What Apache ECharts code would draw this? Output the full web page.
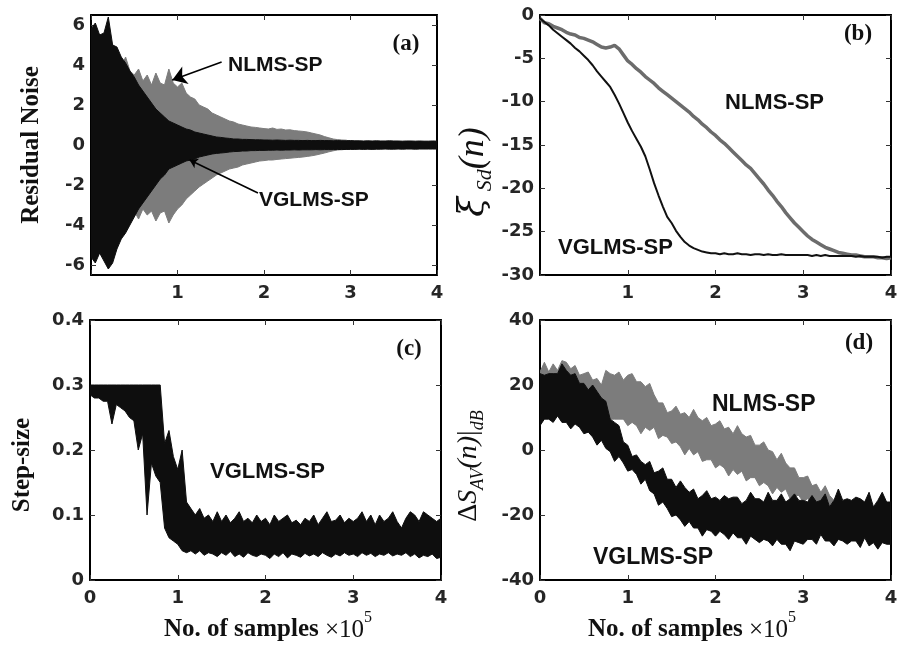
<!DOCTYPE html>
<html>
<head>
<meta charset="utf-8">
<script src="https://cdn.jsdelivr.net/npm/echarts@6/dist/echarts.min.js"></script>
<style>
html, body { margin: 0; padding: 0; background: #fff; }
#main { width: 901px; height: 653px; }
</style>
</head>
<body>
<div id="main"></div>
<script>
// sample positions (x 10^5)
var samples = [0,0.05,0.1,0.15,0.2,0.25,0.3,0.35,0.4,0.45,
    0.5,0.55,0.6,0.65,0.7,0.75,0.8,0.85,0.9,0.95,
    1,1.05,1.1,1.15,1.2,1.25,1.3,1.35,1.4,1.45,
    1.5,1.55,1.6,1.65,1.7,1.75,1.8,1.85,1.9,1.95,
    2,2.05,2.1,2.15,2.2,2.25,2.3,2.35,2.4,2.45,
    2.5,2.55,2.6,2.65,2.7,2.75,2.8,2.85,2.9,2.95,
    3,3.05,3.1,3.15,3.2,3.25,3.3,3.35,3.4,3.45,
    3.5,3.55,3.6,3.65,3.7,3.75,3.8,3.85,3.9,3.95,
    4];

// (a) residual noise envelopes
var aNlmsHi = [4.0,4.0,4.0,4.0,4.0,4.0,4.0,3.9,4.4,3.7,
    3.5,3.8,3.2,3.5,3.0,3.6,3.1,3.0,3.8,3.1,
    2.9,3.1,2.6,2.4,2.3,2.0,1.9,1.8,1.6,1.5,
    1.4,1.3,1.2,1.15,1.05,1.0,0.95,0.9,0.88,0.85,
    0.82,0.8,0.85,0.78,0.8,0.75,0.76,0.72,0.7,0.68,
    0.65,0.6,0.55,0.5,0.42,0.36,0.3,0.27,0.25,0.24,
    0.18,0.18,0.18,0.18,0.18,0.18,0.18,0.18,0.18,0.18,
    0.18,0.18,0.18,0.18,0.18,0.18,0.18,0.18,0.18,0.18,
    0.18];
var aNlmsLo = [-4.0,-4.0,-4.0,-4.0,-4.0,-4.0,-4.0,-3.8,-3.6,-3.4,
    -3.3,-3.7,-3.2,-3.5,-3.3,-3.8,-3.4,-3.3,-3.9,-3.5,
    -3.2,-3.0,-2.7,-2.5,-2.3,-2.1,-1.95,-1.8,-1.65,-1.5,
    -1.4,-1.3,-1.2,-1.15,-1.1,-1.0,-0.95,-0.9,-0.85,-0.8,
    -0.78,-0.75,-0.75,-0.72,-0.7,-0.68,-0.66,-0.64,-0.62,-0.6,
    -0.57,-0.54,-0.5,-0.45,-0.4,-0.34,-0.29,-0.25,-0.23,-0.22,
    -0.18,-0.18,-0.18,-0.18,-0.18,-0.18,-0.18,-0.18,-0.18,-0.18,
    -0.18,-0.18,-0.18,-0.18,-0.18,-0.18,-0.18,-0.18,-0.18,-0.18,
    -0.18];
var aVglmsHi = [5.8,6.1,5.5,5.6,6.4,5.0,4.9,4.4,4.1,3.7,
    3.4,3.0,2.7,2.4,2.1,1.8,1.6,1.4,1.2,1.1,
    1.0,0.9,0.8,0.75,0.65,0.6,0.55,0.5,0.45,0.4,
    0.38,0.35,0.33,0.3,0.3,0.28,0.28,0.27,0.26,0.26,
    0.25,0.25,0.24,0.25,0.24,0.23,0.24,0.23,0.23,0.22,
    0.23,0.22,0.22,0.23,0.22,0.22,0.21,0.22,0.21,0.21,
    0.22,0.21,0.21,0.2,0.21,0.2,0.21,0.2,0.2,0.21,
    0.2,0.2,0.19,0.2,0.2,0.19,0.2,0.19,0.19,0.2,
    0.19];
var aVglmsLo = [-5.6,-5.9,-5.4,-5.8,-6.2,-5.9,-5.2,-4.7,-4.4,-4.0,
    -3.6,-3.2,-2.9,-2.6,-2.3,-2.0,-1.7,-1.5,-1.2,-1.1,
    -1.0,-0.9,-0.8,-0.75,-0.7,-0.6,-0.55,-0.5,-0.45,-0.42,
    -0.4,-0.38,-0.35,-0.33,-0.32,-0.3,-0.3,-0.28,-0.28,-0.27,
    -0.27,-0.26,-0.26,-0.25,-0.26,-0.25,-0.25,-0.24,-0.25,-0.24,
    -0.24,-0.24,-0.23,-0.24,-0.23,-0.23,-0.23,-0.22,-0.23,-0.22,
    -0.22,-0.22,-0.21,-0.22,-0.21,-0.22,-0.21,-0.21,-0.2,-0.21,
    -0.21,-0.2,-0.21,-0.2,-0.2,-0.21,-0.2,-0.2,-0.2,-0.2,
    -0.2];

// (b) misalignment curves
var bNlms = [-0.4,-0.9,-1.0,-1.3,-1.5,-1.7,-2.0,-2.2,-2.3,-2.6,
    -2.7,-2.9,-3.1,-3.4,-3.7,-3.8,-3.7,-3.5,-3.9,-4.6,
    -5.3,-5.7,-6.2,-6.6,-7.1,-7.5,-7.9,-8.4,-8.8,-9.2,
    -9.6,-10.0,-10.4,-10.8,-11.2,-11.7,-12.1,-12.6,-13.0,-13.5,
    -13.9,-14.4,-14.8,-15.3,-15.8,-16.3,-16.8,-17.3,-17.7,-18.3,
    -18.9,-19.5,-20.2,-20.8,-21.5,-22.1,-22.8,-23.4,-24.0,-24.5,
    -25.0,-25.5,-25.9,-26.2,-26.5,-26.8,-27.0,-27.2,-27.4,-27.5,
    -27.6,-27.7,-27.7,-27.8,-27.9,-27.9,-27.9,-28.0,-28.0,-28.1,
    -28.0];
var bVglms = [-0.4,-0.8,-1.2,-1.7,-2.1,-2.5,-2.9,-3.3,-3.8,-4.2,
    -4.7,-5.2,-5.8,-6.5,-7.1,-7.7,-8.3,-9.2,-10.2,-11.3,
    -12.4,-13.4,-14.3,-15.2,-16.3,-17.8,-19.4,-20.8,-22.1,-23.3,
    -24.0,-24.9,-25.6,-26.2,-26.6,-26.9,-27.1,-27.3,-27.4,-27.5,
    -27.5,-27.6,-27.5,-27.6,-27.6,-27.5,-27.6,-27.6,-27.7,-27.6,
    -27.6,-27.7,-27.6,-27.7,-27.7,-27.6,-27.7,-27.7,-27.7,-27.7,
    -27.7,-27.7,-27.8,-27.7,-27.8,-27.7,-27.8,-27.8,-27.8,-27.8,
    -27.8,-27.8,-27.9,-27.8,-27.9,-27.9,-27.9,-27.9,-28.0,-27.9,
    -27.9];

// (c) step-size envelope
var cVglmsHi = [0.3,0.3,0.3,0.3,0.3,0.3,0.3,0.3,0.3,0.3,
    0.3,0.3,0.3,0.3,0.3,0.3,0.3,0.21,0.23,0.19,
    0.17,0.2,0.12,0.11,0.1,0.11,0.095,0.1,0.09,0.105,
    0.09,0.1,0.088,0.095,0.105,0.09,0.095,0.088,0.1,0.09,
    0.095,0.085,0.1,0.09,0.095,0.1,0.088,0.092,0.085,0.095,
    0.09,0.1,0.085,0.095,0.105,0.09,0.092,0.1,0.088,0.095,
    0.09,0.095,0.105,0.09,0.1,0.085,0.1,0.09,0.095,0.105,
    0.09,0.08,0.095,0.105,0.1,0.09,0.105,0.1,0.095,0.09,
    0.095];
var cVglmsLo = [0.285,0.28,0.28,0.275,0.275,0.24,0.27,0.265,0.26,0.25,
    0.245,0.2,0.225,0.1,0.18,0.16,0.15,0.08,0.065,0.06,
    0.055,0.045,0.042,0.045,0.04,0.045,0.038,0.042,0.04,0.036,
    0.042,0.038,0.044,0.036,0.04,0.035,0.042,0.038,0.036,0.04,
    0.038,0.033,0.04,0.036,0.042,0.034,0.04,0.038,0.035,0.041,
    0.037,0.04,0.036,0.042,0.038,0.035,0.04,0.037,0.042,0.038,
    0.04,0.036,0.042,0.038,0.041,0.036,0.04,0.038,0.042,0.037,
    0.04,0.038,0.042,0.036,0.04,0.034,0.038,0.036,0.04,0.033,
    0.035];

// (d) deviation envelopes (dB)
var dNlmsHi = [24,27,24,26.5,24.5,27.5,27,25,26,23,
    23.5,24,21.5,22,20,24.5,23.5,23,24,21.5,
    23,23.5,21,21,19.5,20.5,17,14.5,14.5,11.5,
    12,13.5,11,11.5,10,12.5,10,9,10,7.5,
    8,9,6.5,7,5,7.5,5,4,4.5,1.5,
    1.5,2.5,0,-0.5,-3,-1,-4,-5.5,-5.5,-8.5,
    -8.5,-8,-11,-10.5,-13,-11,-14,-15.5,-15,-17.5,
    -17,-16,-18.5,-17.5,-19.5,-17,-19,-20,-18.5,-21,
    -20];
var dNlmsLo = [15,15,15,15,15,14.5,14,13.5,13,12.5,
    12,11.5,11,10.5,10,10,9.5,9.5,9.5,9.5,
    7.5,8.5,7.5,5,7,6,7,3.5,4.5,4,
    2,2.5,1,-1.5,0.5,-1.5,-0.5,-3.5,-3,-3,
    -5.5,-4.5,-5.5,-8,-6,-7.5,-6.5,-9.5,-8.5,-8.5,
    -11,-10,-11,-13.5,-11.5,-13,-12,-15,-14,-14,
    -16,-15,-16,-19,-17,-18.5,-17.5,-20.5,-19.5,-19.5,
    -21,-20,-21,-23,-20.5,-22,-20.5,-23.5,-22,-21.5,
    -22];
var dVglmsHi = [23.5,23,23.5,23.5,23.5,26.5,24.5,23,23.5,20.5,
    20.5,18.5,20,18,16,15,9.5,8.5,7.5,2.5,
    1.5,-2,-1.5,-3.5,-4.5,-3.5,-7,-6.5,-5.5,-9,
    -9,-11.5,-9.5,-11.5,-13,-12,-15,-14,-12.5,-15,
    -14.5,-15.5,-14,-15,-14.5,-14.5,-16.5,-15.5,-13,-15,
    -15,-16,-13,-15.5,-15.5,-13.5,-16,-15,-13.5,-15.5,
    -15.5,-16,-14,-16,-15.5,-13.5,-17.5,-15.5,-12,-15.5,
    -15,-15.5,-14.5,-15,-16,-13,-17.5,-15.5,-13,-16,
    -16];
var dVglmsLo = [7.5,9.5,9.5,8.5,10.5,8.5,8.5,6.5,8,7,
    5,5.5,4,1.5,3,0.5,-0.5,-3.5,-2,-4,
    -6.5,-6,-7.5,-10.5,-9,-12.5,-13.5,-17,-16,-18,
    -20.5,-20,-21.5,-23.5,-22,-24,-24,-26.5,-24.5,-25,
    -26.5,-25,-26,-27.5,-25.5,-27,-27,-29,-26.5,-27.5,
    -28.5,-27.5,-28,-29.5,-27.5,-29,-29,-31,-28,-28.5,
    -29,-27.5,-27.5,-29,-26,-28,-28,-29.5,-27.5,-28,
    -29,-28,-28,-30,-27,-29.5,-28.5,-30.5,-28.5,-29,
    -29];

// tick labels
var xLabelsTop = [1, 2, 3, 4];
var xLabelsBottom = [0, 1, 2, 3, 4];
var yTicksA = [-6, -4, -2, 0, 2, 4, 6];

var GRAY = '#7c7c7c';
var BLACK = '#0e0e0e';
var SANS = '"Liberation Sans", Arial, sans-serif';
var SERIF = '"Liberation Serif", "Times New Roman", serif';

function pairs(xs, ys) {
    return xs.map(function (x, i) { return [x, ys[i]]; });
}
function triples(xs, lo, hi) {
    return xs.map(function (x, i) { return [x, lo[i], hi[i]]; });
}

var tickLabel = {fontFamily: '"DejaVu Sans", sans-serif', fontWeight: 'bold', fontSize: 18, color: '#262626'};
var frame = {show: true, onZero: false, lineStyle: {color: '#000', width: 2}};

function xPair(g, labels) {
    return [{
        type: 'value', gridIndex: g, position: 'bottom', min: 0, max: 4, interval: 1,
        axisLine: frame,
        axisTick: {inside: true, length: 5, lineStyle: {color: '#333'}},
        axisLabel: Object.assign({customValues: labels, margin: 9}, tickLabel),
        splitLine: {show: false}
    }, {
        type: 'value', gridIndex: g, position: 'top', min: 0, max: 4, interval: 1,
        axisLine: frame,
        axisTick: {inside: true, length: 5, lineStyle: {color: '#333'}},
        axisLabel: {show: false},
        splitLine: {show: false}
    }];
}
function yPair(g, min, max, interval, ticks) {
    var left = {
        type: 'value', gridIndex: g, position: 'left', min: min, max: max,
        axisLine: frame,
        axisTick: {inside: true, length: 5, lineStyle: {color: '#333'}},
        axisLabel: Object.assign({margin: 6}, tickLabel),
        splitLine: {show: false}
    };
    var right = {
        type: 'value', gridIndex: g, position: 'right', min: min, max: max,
        axisLine: frame,
        axisTick: {inside: true, length: 5, lineStyle: {color: '#333'}},
        axisLabel: {show: false},
        splitLine: {show: false}
    };
    if (ticks) {
        left.axisTick.customValues = ticks;
        left.axisLabel.customValues = ticks;
        right.axisTick.customValues = ticks;
    } else {
        left.interval = interval;
        right.interval = interval;
    }
    return [left, right];
}

// a filled band between lo and hi, drawn as one polygon through the axis scales
function band(g, hi, lo, color) {
    return {
        type: 'custom', xAxisIndex: 2 * g, yAxisIndex: 2 * g,
        silent: true, clip: true,
        data: triples(samples, lo, hi),
        encode: {x: 0, y: [1, 2]},
        renderItem: function (params, api) {
            if (params.dataIndexInside !== 0) return null;
            var n = params.dataInsideLength;
            var top = [], bottom = [];
            for (var i = 0; i < n; i++) {
                top.push(api.coord([api.value(0, i), api.value(2, i)]));
                bottom.unshift(api.coord([api.value(0, i), api.value(1, i)]));
            }
            return {
                type: 'polygon',
                shape: {points: top.concat(bottom)},
                style: {fill: color, stroke: color, lineWidth: 1}
            };
        }
    };
}

var arrows = {
    silent: true,
    symbol: ['none', 'arrow'],
    symbolSize: 14,
    label: {show: false},
    lineStyle: {color: '#000', width: 1.6, type: 'solid'},
    data: [
        [{coord: [1.51, 4.15]}, {coord: [0.94, 3.25]}],
        [{coord: [1.93, -2.4]}, {coord: [1.14, -0.75], symbolSize: 8}]
    ]
};

function txt(x, y, text, size) {
    return {type: 'text', x: x, y: y, z: 100,
        style: {text: text, font: 'bold ' + size + 'px ' + SANS, fill: '#111', align: 'left', verticalAlign: 'middle'}};
}
function tag(x, y, text) {
    return {type: 'text', x: x, y: y, z: 100,
        style: {text: text, font: 'bold 23px ' + SERIF, fill: '#111', align: 'center', verticalAlign: 'middle'}};
}
function samplesName(x) {
    return {type: 'text', x: x, y: 630, z: 100,
        style: {
            text: '{b|No. of samples }{m|×10}{s|5}', align: 'center', verticalAlign: 'middle',
            rich: {
                b: {font: 'bold 25px ' + SERIF, fill: '#111', lineHeight: 40},
                m: {font: '25px ' + SERIF, fill: '#111', lineHeight: 40},
                s: {font: '16px ' + SERIF, fill: '#111', lineHeight: 16, verticalAlign: 'top'}
            }
        }};
}
function yName(x, y, text, rich) {
    var el = {type: 'text', x: x, y: y, z: 100, rotation: Math.PI / 2,
        style: {text: text, align: 'center', verticalAlign: 'middle', fill: '#111', font: 'bold 25px ' + SERIF}};
    if (rich) el.style.rich = rich;
    return el;
}

var option = {
    animation: false,
    backgroundColor: '#fff',
    grid: [
        {left: 91, top: 15, width: 346, height: 260},
        {left: 540, top: 15, width: 351, height: 260},
        {left: 90, top: 320, width: 351, height: 260},
        {left: 540, top: 320, width: 351, height: 260}
    ],
    xAxis: [].concat(xPair(0, xLabelsTop), xPair(1, xLabelsTop), xPair(2, xLabelsBottom), xPair(3, xLabelsBottom)),
    yAxis: [].concat(yPair(0, -6.5, 6.5, null, yTicksA), yPair(1, -30, 0, 5), yPair(2, 0, 0.4, 0.1), yPair(3, -40, 40, 20)),
    series: [
        band(0, aNlmsHi, aNlmsLo, GRAY),
        band(0, aVglmsHi, aVglmsLo, BLACK),
        {
            type: 'line', xAxisIndex: 0, yAxisIndex: 0, symbol: 'none', silent: true,
            data: [], markLine: arrows
        },
        {
            name: 'NLMS-SP', type: 'line', xAxisIndex: 2, yAxisIndex: 2, symbol: 'none', silent: true,
            data: pairs(samples, bNlms), lineStyle: {color: '#6c6c6c', width: 3.5}
        },
        {
            name: 'VGLMS-SP', type: 'line', xAxisIndex: 2, yAxisIndex: 2, symbol: 'none', silent: true,
            data: pairs(samples, bVglms), lineStyle: {color: '#111', width: 2}
        },
        band(2, cVglmsHi, cVglmsLo, BLACK),
        band(3, dNlmsHi, dNlmsLo, GRAY),
        band(3, dVglmsHi, dVglmsLo, BLACK)
    ],
    graphic: [
        tag(406, 44, '(a)'), tag(858, 34, '(b)'), tag(409, 349, '(c)'), tag(859, 343, '(d)'),
        txt(228, 65, 'NLMS-SP', 21), txt(259, 200, 'VGLMS-SP', 21),
        txt(725, 103, 'NLMS-SP', 22), txt(558, 248, 'VGLMS-SP', 22),
        txt(210, 472, 'VGLMS-SP', 22),
        txt(712, 405, 'NLMS-SP', 23), txt(593, 558, 'VGLMS-SP', 23),
        samplesName(268), samplesName(692),
        yName(32, 145, 'Residual Noise'),
        yName(23, 465, 'Step-size'),
        yName(474, 172, '{g|ξ}{s| Sd}{p|(n)}', {
            g: {font: 'italic 36px "DejaVu Serif", serif', fill: '#111', lineHeight: 44},
            s: {font: 'italic 22px ' + SERIF, fill: '#111', lineHeight: 26, verticalAlign: 'bottom'},
            p: {font: 'italic 36px ' + SERIF, fill: '#111', lineHeight: 44}
        }),
        yName(469, 466, '{u|Δ}{i|S}{s|AV}{i|(n)}{u||}{s|dB}', {
            u: {font: '28px ' + SERIF, fill: '#111', lineHeight: 36},
            i: {font: 'italic 28px ' + SERIF, fill: '#111', lineHeight: 36},
            s: {font: 'italic 18px ' + SERIF, fill: '#111', lineHeight: 22, verticalAlign: 'bottom'}
        })
    ]
};

var myChart = echarts.init(document.getElementById('main'));
myChart.setOption(option);
</script>
</body>
</html>
